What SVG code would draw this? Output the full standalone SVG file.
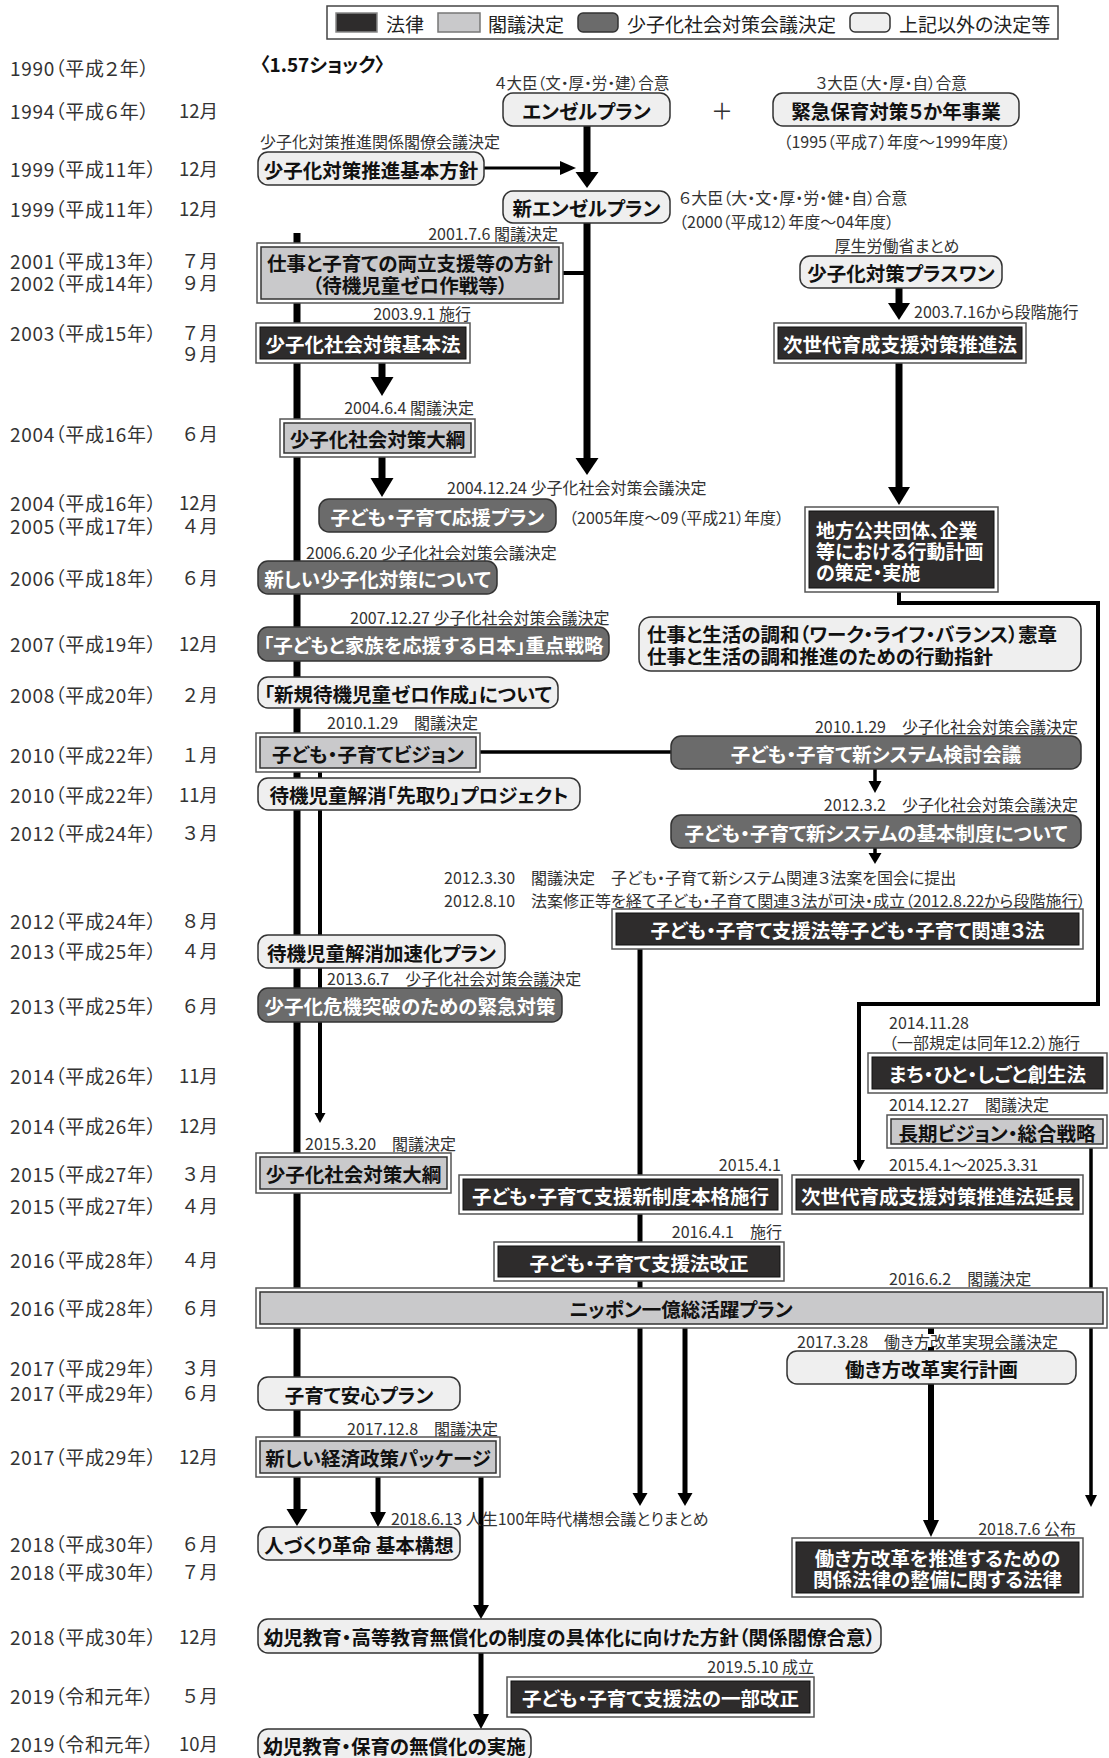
<svg xmlns="http://www.w3.org/2000/svg" width="1109" height="1758" viewBox="0 0 1109 1758">
<style>
text{font-family:"Noto Sans CJK JP","Noto Sans CJK SC",sans-serif;font-feature-settings:"palt";dominant-baseline:central}
.y{font-size:19px;fill:#333;letter-spacing:0.7px}
.m{font-size:18.5px;fill:#333;text-anchor:end;font-feature-settings:normal}
.a{font-size:16px;fill:#333}
.ae{font-size:16px;fill:#333;text-anchor:end}
.ac{font-size:16px;fill:#333;text-anchor:middle}
.l{font-size:19.5px;font-weight:700;fill:#111;text-anchor:middle}
.lw{font-size:19.5px;font-weight:700;fill:#fff;text-anchor:middle}
.ls{font-size:19px;font-weight:700;fill:#fff}
.lk{font-size:19.5px;font-weight:700;fill:#111}
.lg{font-size:19px;fill:#222}
.lo{fill:#fff;stroke:#555;stroke-width:1.5}
.li{fill:#2e2c2c;stroke:#111;stroke-width:1}
.ci{fill:#c9c9cb;stroke:#333;stroke-width:1.5}
.kn{fill:#6b6b6b;stroke:#333;stroke-width:1.5}
.ot{fill:#efefef;stroke:#333;stroke-width:1.5}
.c{stroke:#000;fill:none;stroke-linecap:butt}
.ah{fill:#000}
</style>

<g id="legend">
<rect x="327" y="6" width="731" height="33" fill="#fff" stroke="#444" stroke-width="1.5"/>
<rect x="336" y="13" width="41" height="19" fill="#2e2c2c" stroke="#888" stroke-width="1.5"/>
<text class="lg" x="386" y="23">法律</text>
<rect x="438" y="13" width="42" height="19" fill="#c9c9cb" stroke="#777" stroke-width="1.5"/>
<text class="lg" x="488" y="23">閣議決定</text>
<rect x="578" y="13" width="40" height="19" rx="5" fill="#6b6b6b" stroke="#333" stroke-width="1.5"/>
<text class="lg" x="627" y="23">少子化社会対策会議決定</text>
<rect x="850" y="13" width="40" height="19" rx="5" fill="#efefef" stroke="#333" stroke-width="1.5"/>
<text class="lg" x="899" y="23">上記以外の決定等</text>
</g>

<g id="years">
<text class="y" x="10" y="67">1990（平成２年）</text>
<text class="y" x="10" y="110">1994（平成６年）</text><text class="m" x="218" y="110">12月</text>
<text class="y" x="10" y="168">1999（平成11年）</text><text class="m" x="218" y="168">12月</text>
<text class="y" x="10" y="208">1999（平成11年）</text><text class="m" x="218" y="208">12月</text>
<text class="y" x="10" y="260">2001（平成13年）</text><text class="m" x="218" y="260">７月</text>
<text class="y" x="10" y="282">2002（平成14年）</text><text class="m" x="218" y="282">９月</text>
<text class="y" x="10" y="332">2003（平成15年）</text><text class="m" x="218" y="332">７月</text>
<text class="m" x="218" y="353">９月</text>
<text class="y" x="10" y="433">2004（平成16年）</text><text class="m" x="218" y="433">６月</text>
<text class="y" x="10" y="502">2004（平成16年）</text><text class="m" x="218" y="502">12月</text>
<text class="y" x="10" y="525">2005（平成17年）</text><text class="m" x="218" y="525">４月</text>
<text class="y" x="10" y="577">2006（平成18年）</text><text class="m" x="218" y="577">６月</text>
<text class="y" x="10" y="643">2007（平成19年）</text><text class="m" x="218" y="643">12月</text>
<text class="y" x="10" y="694">2008（平成20年）</text><text class="m" x="218" y="694">２月</text>
<text class="y" x="10" y="754">2010（平成22年）</text><text class="m" x="218" y="754">１月</text>
<text class="y" x="10" y="794">2010（平成22年）</text><text class="m" x="218" y="794">11月</text>
<text class="y" x="10" y="832">2012（平成24年）</text><text class="m" x="218" y="832">３月</text>
<text class="y" x="10" y="920">2012（平成24年）</text><text class="m" x="218" y="920">８月</text>
<text class="y" x="10" y="950">2013（平成25年）</text><text class="m" x="218" y="950">４月</text>
<text class="y" x="10" y="1005">2013（平成25年）</text><text class="m" x="218" y="1005">６月</text>
<text class="y" x="10" y="1075">2014（平成26年）</text><text class="m" x="218" y="1075">11月</text>
<text class="y" x="10" y="1125">2014（平成26年）</text><text class="m" x="218" y="1125">12月</text>
<text class="y" x="10" y="1173">2015（平成27年）</text><text class="m" x="218" y="1173">３月</text>
<text class="y" x="10" y="1205">2015（平成27年）</text><text class="m" x="218" y="1205">４月</text>
<text class="y" x="10" y="1259">2016（平成28年）</text><text class="m" x="218" y="1259">４月</text>
<text class="y" x="10" y="1307">2016（平成28年）</text><text class="m" x="218" y="1307">６月</text>
<text class="y" x="10" y="1367">2017（平成29年）</text><text class="m" x="218" y="1367">３月</text>
<text class="y" x="10" y="1392">2017（平成29年）</text><text class="m" x="218" y="1392">６月</text>
<text class="y" x="10" y="1456">2017（平成29年）</text><text class="m" x="218" y="1456">12月</text>
<text class="y" x="10" y="1543">2018（平成30年）</text><text class="m" x="218" y="1543">６月</text>
<text class="y" x="10" y="1571">2018（平成30年）</text><text class="m" x="218" y="1571">７月</text>
<text class="y" x="10" y="1636">2018（平成30年）</text><text class="m" x="218" y="1636">12月</text>
<text class="y" x="10" y="1695">2019（令和元年）</text><text class="m" x="218" y="1695">５月</text>
<text class="y" x="10" y="1743">2019（令和元年）</text><text class="m" x="218" y="1743">10月</text>
</g>

<g id="connectors">
<path class="c" stroke-width="7" d="M587 126V173"/><polygon class="ah" points="575.5,172 598.5,172 587,188"/>
<path class="c" stroke-width="3" d="M484 168H561"/><polygon class="ah" points="560,161 560,175 576,168"/>
<path class="c" stroke-width="7" d="M587 223V459"/><polygon class="ah" points="575.5,458 598.5,458 587,475"/>
<path class="c" stroke-width="4" d="M563 273H587"/>
<path class="c" stroke-width="7" d="M297 233V1510"/><polygon class="ah" points="286.5,1509 307.5,1509 297,1526"/>
<path class="c" stroke-width="7" d="M382 363V378"/><polygon class="ah" points="370.5,377 393.5,377 382,396"/>
<path class="c" stroke-width="7" d="M382 457V479"/><polygon class="ah" points="370.5,478 393.5,478 382,497"/>
<path class="c" stroke-width="7" d="M899 288V304"/><polygon class="ah" points="888,303 910,303 899,320"/>
<path class="c" stroke-width="7" d="M899 363V488"/><polygon class="ah" points="888,487 910,487 899,505"/>
<path class="c" stroke-width="4" d="M899 592V603H1098V1004H859V1161"/><polygon class="ah" points="853,1160 865,1160 859,1171"/>
<path class="c" stroke-width="3.5" d="M480 752H671"/>
<path class="c" stroke-width="3.5" d="M875 769V782"/><polygon class="ah" points="868.5,781 881.5,781 875,793"/>
<path class="c" stroke-width="3.5" d="M875 848V854"/><polygon class="ah" points="868.5,853 881.5,853 875,864"/>
<path class="c" stroke-width="4" d="M320 772V1114"/><polygon class="ah" points="314.5,1113 325.5,1113 320,1123"/>
<path class="c" stroke-width="5" d="M640 949V1494"/><polygon class="ah" points="632.5,1493 647.5,1493 640,1506"/>
<path class="c" stroke-width="5" d="M685 1328V1494"/><polygon class="ah" points="677.5,1493 692.5,1493 685,1506"/>
<path class="c" stroke-width="3.5" d="M1091 1147V1496"/><polygon class="ah" points="1085,1495 1097,1495 1091,1507"/>
<path class="c" stroke-width="6" d="M931 1328V1334M931 1347V1351M931 1384V1521"/><polygon class="ah" points="923,1520 939,1520 931,1537"/>
<path class="c" stroke-width="5" d="M378 1477V1513"/><polygon class="ah" points="370,1512 386,1512 378,1527"/>
<path class="c" stroke-width="5" d="M481 1477V1606"/><polygon class="ah" points="473,1605 489,1605 481,1619"/>
<path class="c" stroke-width="5" d="M481 1653V1715"/><polygon class="ah" points="473,1714 489,1714 481,1729"/>
</g>

<g id="annotations">
<text x="260" y="63" style="font-size:19px;font-weight:700;fill:#111">〈1.57ショック〉</text>
<text class="ac" x="582" y="82" style="font-size:15.5px">４大臣（文・厚・労・建）合意</text>
<text x="722" y="109" style="font-size:22px;fill:#333;text-anchor:middle">＋</text>
<text class="ac" x="891" y="82" style="font-size:15.5px">３大臣（大・厚・自）合意</text>
<text class="ac" x="897" y="141">（1995（平成７）年度〜1999年度）</text>
<text class="a" x="260" y="141">少子化対策推進関係閣僚会議決定</text>
<text class="a" x="679" y="197">６大臣（大・文・厚・労・健・自）合意</text>
<text class="a" x="679" y="221">（2000（平成12）年度〜04年度）</text>
<text class="ac" x="897" y="245">厚生労働省まとめ</text>
<text class="ae" x="558" y="233">2001.7.6 閣議決定</text>
<text class="ae" x="471" y="313">2003.9.1 施行</text>
<text class="a" x="914" y="311">2003.7.16から段階施行</text>
<text class="ae" x="474" y="407">2004.6.4 閣議決定</text>
<text class="a" x="447" y="487">2004.12.24 少子化社会対策会議決定</text>
<text class="a" x="569" y="517">（2005年度〜09（平成21）年度）</text>
<text class="a" x="306" y="552">2006.6.20 少子化社会対策会議決定</text>
<text class="a" x="350" y="617">2007.12.27 少子化社会対策会議決定</text>
<text class="a" x="327" y="722">2010.1.29　閣議決定</text>
<text class="ae" x="1078" y="726">2010.1.29　少子化社会対策会議決定</text>
<text class="ae" x="1078" y="804">2012.3.2　少子化社会対策会議決定</text>
<text class="a" x="444" y="877">2012.3.30　閣議決定　子ども・子育て新システム関連３法案を国会に提出</text>
<text class="a" x="444" y="900">2012.8.10　法案修正等を経て子ども・子育て関連３法が可決・成立（2012.8.22から段階施行）</text>
<text class="a" x="327" y="978">2013.6.7　少子化社会対策会議決定</text>
<text class="a" x="889" y="1022">2014.11.28</text>
<text class="a" x="889" y="1042">（一部規定は同年12.2）施行</text>
<text class="a" x="889" y="1104">2014.12.27　閣議決定</text>
<text class="a" x="305" y="1143">2015.3.20　閣議決定</text>
<text class="ae" x="781" y="1164">2015.4.1</text>
<text class="a" x="889" y="1164">2015.4.1〜2025.3.31</text>
<text class="ae" x="782" y="1231">2016.4.1　施行</text>
<text class="a" x="889" y="1278">2016.6.2　閣議決定</text>
<text class="a" x="797" y="1341">2017.3.28　働き方改革実現会議決定</text>
<text class="a" x="347" y="1428">2017.12.8　閣議決定</text>
<text class="a" x="391" y="1518">2018.6.13 人生100年時代構想会議とりまとめ</text>
<text class="ae" x="1076" y="1528">2018.7.6 公布</text>
<text class="ae" x="814" y="1666">2019.5.10 成立</text>
</g>

<g id="n-angel"><rect class="ot" x="503" y="93" width="167" height="33" rx="10"/><text class="l" x="586.5" y="110">エンゼルプラン</text></g>
<g id="n-kinkyu"><rect class="ot" x="773" y="93" width="246" height="33" rx="10"/><text class="l" x="896" y="110">緊急保育対策５か年事業</text></g>
<g id="n-kihonhoshin"><rect class="ot" x="258" y="152" width="226" height="33" rx="10"/><text class="l" x="371" y="169">少子化対策推進基本方針</text></g>
<g id="n-newangel"><rect class="ot" x="503" y="191" width="167" height="32" rx="10"/><text class="l" x="586.5" y="207">新エンゼルプラン</text></g>
<g id="n-plusone"><rect class="ot" x="800" y="256" width="202" height="32" rx="10"/><text class="l" x="901" y="272">少子化対策プラスワン</text></g>
<g id="n-ryoritsu"><rect class="lo" x="257" y="243" width="306" height="60"/><rect class="ci" x="261" y="247" width="298" height="52"/><text class="l" x="410" y="262">仕事と子育ての両立支援等の方針</text><text class="l" x="410" y="284">（待機児童ゼロ作戦等）</text></g>
<g id="n-kihonho"><rect class="lo" x="256" y="323" width="214" height="40"/><rect class="li" x="260" y="327" width="206" height="32"/><text class="lw" x="363" y="343">少子化社会対策基本法</text></g>
<g id="n-jisedai"><rect class="lo" x="774" y="323" width="252" height="40"/><rect class="li" x="778" y="327" width="244" height="32"/><text class="lw" x="900" y="343">次世代育成支援対策推進法</text></g>
<g id="n-taiko2004"><rect class="lo" x="280" y="419" width="195" height="38"/><rect class="ci" x="284" y="423" width="187" height="30"/><text class="l" x="377.5" y="438">少子化社会対策大綱</text></g>
<g id="n-chiho"><rect class="lo" x="805" y="507" width="193" height="85"/><rect class="li" x="809" y="511" width="185" height="77"/><text class="ls" x="816" y="529">地方公共団体、企業</text><text class="ls" x="816" y="550">等における行動計画</text><text class="ls" x="816" y="571">の策定・実施</text></g>
<g id="n-oen"><rect class="kn" x="319" y="499" width="237" height="33" rx="10"/><text class="lw" x="437.5" y="516">子ども・子育て応援プラン</text></g>
<g id="n-atarashii"><rect class="kn" x="258" y="561" width="239" height="33" rx="10"/><text class="lw" x="377.5" y="578">新しい少子化対策について</text></g>
<g id="n-juten"><rect class="kn" x="258" y="627" width="351" height="34" rx="10"/><text class="lw" x="433.5" y="644">「子どもと家族を応援する日本」重点戦略</text></g>
<g id="n-wlb"><rect class="ot" x="639" y="617" width="442" height="54" rx="12"/><text class="lk" x="647" y="633">仕事と生活の調和（ワーク・ライフ・バランス）憲章</text><text class="lk" x="647" y="655">仕事と生活の調和推進のための行動指針</text></g>
<g id="n-shinki"><rect class="ot" x="258" y="677" width="300" height="31" rx="10"/><text class="l" x="408" y="693">「新規待機児童ゼロ作成」について</text></g>
<g id="n-vision"><rect class="lo" x="256" y="733" width="224" height="39"/><rect class="ci" x="260" y="737" width="216" height="31"/><text class="l" x="368" y="753">子ども・子育てビジョン</text></g>
<g id="n-kento"><rect class="kn" x="671" y="736" width="410" height="33" rx="10"/><text class="lw" x="876" y="753">子ども・子育て新システム検討会議</text></g>
<g id="n-sakidori"><rect class="ot" x="258" y="778" width="322" height="32" rx="10"/><text class="l" x="419" y="794">待機児童解消「先取り」プロジェクト</text></g>
<g id="n-kihonseido"><rect class="kn" x="671" y="815" width="410" height="33" rx="10"/><text class="lw" x="876" y="832">子ども・子育て新システムの基本制度について</text></g>
<g id="n-kanren3"><rect class="lo" x="612" y="909" width="471" height="40"/><rect class="li" x="616" y="913" width="463" height="32"/><text class="lw" x="847.5" y="929">子ども・子育て支援法等子ども・子育て関連３法</text></g>
<g id="n-kasoku"><rect class="ot" x="258" y="935" width="247" height="33" rx="10"/><text class="l" x="381.5" y="952">待機児童解消加速化プラン</text></g>
<g id="n-kiki"><rect class="kn" x="258" y="988" width="304" height="34" rx="10"/><text class="lw" x="410" y="1005">少子化危機突破のための緊急対策</text></g>
<g id="n-machi"><rect class="lo" x="868" y="1053" width="239" height="40"/><rect class="li" x="872" y="1057" width="231" height="32"/><text class="lw" x="987.5" y="1073">まち・ひと・しごと創生法</text></g>
<g id="n-choki"><rect class="lo" x="887" y="1115" width="220" height="33"/><rect class="ci" x="891" y="1119" width="212" height="25"/><text class="l" x="997" y="1132">長期ビジョン・総合戦略</text></g>
<g id="n-taiko2015"><rect class="lo" x="256" y="1153" width="195" height="40"/><rect class="ci" x="260" y="1157" width="187" height="32"/><text class="l" x="353.5" y="1173">少子化社会対策大綱</text></g>
<g id="n-honkaku"><rect class="lo" x="459" y="1175" width="323" height="39"/><rect class="li" x="463" y="1179" width="315" height="31"/><text class="lw" x="620.5" y="1195">子ども・子育て支援新制度本格施行</text></g>
<g id="n-encho"><rect class="lo" x="792" y="1175" width="291" height="39"/><rect class="li" x="796" y="1179" width="283" height="31"/><text class="lw" x="937.5" y="1195">次世代育成支援対策推進法延長</text></g>
<g id="n-kaisei"><rect class="lo" x="494" y="1242" width="290" height="39"/><rect class="li" x="498" y="1246" width="282" height="31"/><text class="lw" x="639" y="1262">子ども・子育て支援法改正</text></g>
<g id="n-nippon"><rect class="lo" x="256" y="1288" width="851" height="40"/><rect class="ci" x="260" y="1292" width="843" height="32"/><text class="l" x="681" y="1308">ニッポン一億総活躍プラン</text></g>
<g id="n-hatarakikata"><rect class="ot" x="787" y="1351" width="289" height="33" rx="10"/><text class="l" x="931.5" y="1368">働き方改革実行計画</text></g>
<g id="n-anshin"><rect class="ot" x="258" y="1377" width="202" height="33" rx="10"/><text class="l" x="359" y="1394">子育て安心プラン</text></g>
<g id="n-package"><rect class="lo" x="256" y="1437" width="244" height="40"/><rect class="ci" x="260" y="1441" width="236" height="32"/><text class="l" x="378" y="1457">新しい経済政策パッケージ</text></g>
<g id="n-hitozukuri"><rect class="ot" x="258" y="1527" width="202" height="33" rx="10"/><text class="l" x="359" y="1544">人づくり革命 基本構想</text></g>
<g id="n-hatarakiho"><rect class="lo" x="792" y="1538" width="291" height="59"/><rect class="li" x="796" y="1542" width="283" height="51"/><text class="lw" x="937.5" y="1557">働き方改革を推進するための</text><text class="lw" x="937.5" y="1578">関係法律の整備に関する法律</text></g>
<g id="n-mushoka-hoshin"><rect class="ot" x="258" y="1619" width="623" height="34" rx="10"/><text class="l" x="569.5" y="1636">幼児教育・高等教育無償化の制度の具体化に向けた方針（関係閣僚合意）</text></g>
<g id="n-ichibukaisei"><rect class="lo" x="507" y="1677" width="307" height="40"/><rect class="li" x="511" y="1681" width="299" height="32"/><text class="lw" x="660.5" y="1697">子ども・子育て支援法の一部改正</text></g>
<g id="n-mushoka"><rect class="ot" x="258" y="1729" width="273" height="33" rx="10"/><text class="l" x="394.5" y="1745">幼児教育・保育の無償化の実施</text></g>
</svg>
